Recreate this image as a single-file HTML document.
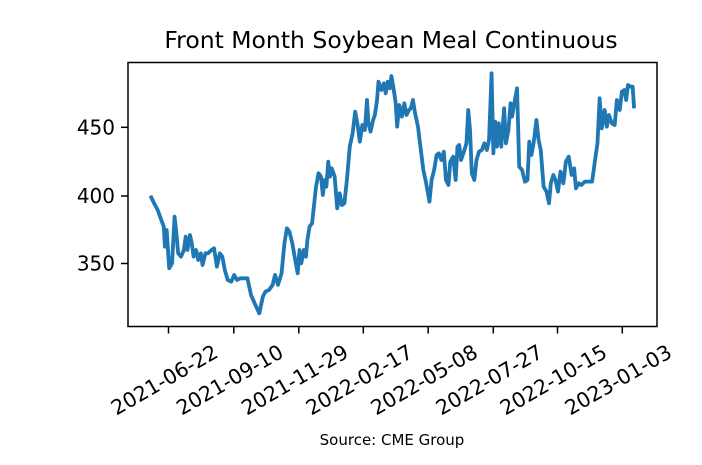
<!DOCTYPE html>
<html><head><meta charset="utf-8"><style>
html,body{margin:0;padding:0;background:#fff}
svg{display:block;font-family:"DejaVu Sans","Liberation Sans",sans-serif}
</style></head><body>
<svg width="702" height="465" viewBox="0 0 702 465" xmlns="http://www.w3.org/2000/svg">
<rect width="702" height="465" fill="#fff"/>
<text x="391" y="48" font-size="23.5" text-anchor="middle" fill="#000">Front Month Soybean Meal Continuous</text>
<g transform="translate(120,50) scale(0.359,0.3333)">
<polyline fill="none" stroke="#1f77b4" stroke-width="3.8" vector-effect="non-scaling-stroke" stroke-linejoin="round" points="85,437 95,460 105,480 115,510 122,530 125,590 130,540 137,655 145,640 152,500 158,560 162,610 170,620 178,600 183,560 188,600 195,555 200,580 205,620 212,600 218,630 225,610 230,645 238,610 245,610 255,600 262,595 270,650 278,610 285,620 292,660 300,690 310,695 318,675 326,690 335,685 345,685 355,685 365,735 375,760 388,790 398,740 405,725 415,720 425,705 432,675 440,705 450,670 458,580 465,535 472,545 480,580 488,630 495,670 500,600 505,640 512,600 518,620 522,570 528,530 535,520 540,470 546,410 553,370 560,380 565,435 570,390 575,410 580,335 585,380 590,355 598,380 605,475 612,430 618,465 625,460 632,390 640,290 648,250 655,185 662,225 668,275 675,225 682,240 688,150 692,220 698,245 705,210 710,195 716,150 720,95 728,120 735,100 740,130 746,95 752,115 756,78 762,115 768,160 772,230 778,165 785,200 792,160 798,195 805,180 810,175 816,150 822,190 830,230 838,300 845,360 852,395 862,455 868,390 875,360 882,315 888,310 895,330 902,305 908,390 915,405 920,335 928,320 935,390 940,290 945,285 950,330 958,305 965,280 970,180 975,240 980,370 987,390 993,330 1000,305 1008,300 1015,280 1022,300 1028,270 1035,70 1040,310 1045,215 1050,290 1055,220 1062,290 1070,175 1075,280 1082,240 1088,160 1092,200 1100,150 1106,115 1112,350 1120,360 1128,395 1135,390 1140,275 1146,315 1152,280 1160,210 1166,270 1172,300 1180,410 1188,425 1195,460 1200,400 1207,375 1213,390 1220,425 1227,365 1235,400 1242,335 1250,320 1258,375 1265,355 1270,415 1278,400 1285,405 1295,395 1305,395 1315,395 1322,340 1330,280 1336,145 1342,235 1350,180 1356,230 1362,195 1370,220 1378,225 1384,150 1392,180 1398,125 1405,120 1410,150 1415,105 1422,110 1428,110 1432,175"/>
</g>
<rect x="128" y="62.5" width="529" height="264" fill="none" stroke="#000" stroke-width="1.5"/>
<g stroke="#000" stroke-width="1.5">
<line x1="128" y1="127.3" x2="121" y2="127.3"/>
<line x1="128" y1="196" x2="121" y2="196"/>
<line x1="128" y1="263.5" x2="121" y2="263.5"/>
<line x1="168.5" y1="326.5" x2="168.5" y2="333.5"/>
<line x1="233.8" y1="326.5" x2="233.8" y2="333.5"/>
<line x1="298.8" y1="326.5" x2="298.8" y2="333.5"/>
<line x1="363.3" y1="326.5" x2="363.3" y2="333.5"/>
<line x1="428.2" y1="326.5" x2="428.2" y2="333.5"/>
<line x1="493.3" y1="326.5" x2="493.3" y2="333.5"/>
<line x1="557.5" y1="326.5" x2="557.5" y2="333.5"/>
<line x1="622.3" y1="326.5" x2="622.3" y2="333.5"/>
</g>
<g font-size="20" fill="#000" text-anchor="end">
<text x="115" y="134.5">450</text>
<text x="115" y="203">400</text>
<text x="115" y="270.5">350</text>
</g>
<g font-size="20.5" fill="#000" text-anchor="middle">
<text transform="translate(168,386) rotate(-30)">2021-06-22</text>
<text transform="translate(233.3,386) rotate(-30)">2021-09-10</text>
<text transform="translate(298.3,386) rotate(-30)">2021-11-29</text>
<text transform="translate(362.8,386) rotate(-30)">2022-02-17</text>
<text transform="translate(427.7,386) rotate(-30)">2022-05-08</text>
<text transform="translate(492.8,386) rotate(-30)">2022-07-27</text>
<text transform="translate(557,386) rotate(-30)">2022-10-15</text>
<text transform="translate(621.8,386) rotate(-30)">2023-01-03</text>
</g>
<text x="392" y="445" font-size="15" text-anchor="middle" fill="#000">Source: CME Group</text>
</svg>
</body></html>
